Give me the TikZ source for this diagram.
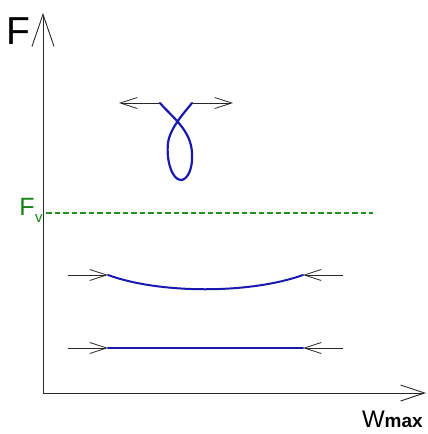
\documentclass[tikz,border=0pt]{standalone}
\usepackage{fontspec}
\setmainfont{Liberation Sans}
\usetikzlibrary{arrows.meta}
\definecolor{barblue}{RGB}{25,25,175}
\definecolor{fvgreen}{RGB}{20,130,20}
\definecolor{dashgreen}{RGB}{30,145,30}
\definecolor{axisgray}{RGB}{40,40,40}
\begin{document}
\begin{tikzpicture}[x=1pt,y=-1pt,
  axis/.style={draw=axisgray,line width=0.9pt},
  force/.style={draw=axisgray,line width=0.8pt,-{Straight Barb[length=17pt,width=11pt,line width=0.8pt]}},
  bar/.style={draw=barblue,line width=2.2pt,line cap=round,line join=round},
  lbl/.style={inner sep=0pt,outer sep=0pt,anchor=base west},
  level/.style={draw=dashgreen,line width=1.4pt,dash pattern=on 5.5pt off 3pt}]
\useasboundingbox (0,0) rectangle (428,434);
% axes
\coordinate (O) at (43,393);
\coordinate (Ytop) at (43,13);
\coordinate (Xend) at (426,393);
\draw[axis,-{Straight Barb[length=32pt,width=22pt,line width=0.9pt]}] (O) -- (Ytop);
\draw[axis,-{Straight Barb[length=24pt,width=16pt,line width=0.9pt]}] (O) -- (Xend);
\node[lbl,font=\fontsize{39}{39}\selectfont] (F) at (6,44) {F};
\node[lbl,font=\fontsize{24}{24}\selectfont] (W) at (362,427) {W};
\node[lbl,font=\fontsize{19}{19}\selectfont\bfseries] (max) at (W.base east) {max};
% Fv level
\node[lbl,text=fvgreen,font=\fontsize{25}{25}\selectfont] (Fv) at (19.5,215) {F};
\node[lbl,text=fvgreen,font=\fontsize{15}{15}\selectfont] (v) at (35,222) {v};
\coordinate (L1) at (46,213);
\coordinate (L2) at (373,213);
\draw[level] (L1) -- (L2);
% buckled loop
\coordinate (A1) at (160,103);
\coordinate (A2) at (192,103);
\coordinate (A1t) at (119,103);
\coordinate (A2t) at (233,103);
\draw[bar] (A1) .. controls (172,117) and (191,130) .. (192,153)
  .. controls (193,172) and (186,180) .. (181,180)
  .. controls (172,180) and (166,160) .. (168,143)
  .. controls (170,128) and (184,113) .. (A2);
\draw[force] (A1) -- (A1t);
\draw[force] (A2) -- (A2t);
% bent bar
\coordinate (B1) at (108,275);
\coordinate (B2) at (303,275);
\coordinate (B1s) at (68,275);
\coordinate (B2s) at (343,275);
\draw[bar,line width=2pt] (B1) .. controls (160,294) and (250,294) .. (B2);
\draw[force] (B1s) -- (B1);
\draw[force] (B2s) -- (B2);
% straight bar
\coordinate (C1) at (108,348);
\coordinate (C2) at (303,348);
\coordinate (C1s) at (68,348);
\coordinate (C2s) at (343,348);
\draw[bar,line width=2pt] (C1) -- (C2);
\draw[force] (C1s) -- (C1);
\draw[force] (C2s) -- (C2);
\end{tikzpicture}
\end{document}
